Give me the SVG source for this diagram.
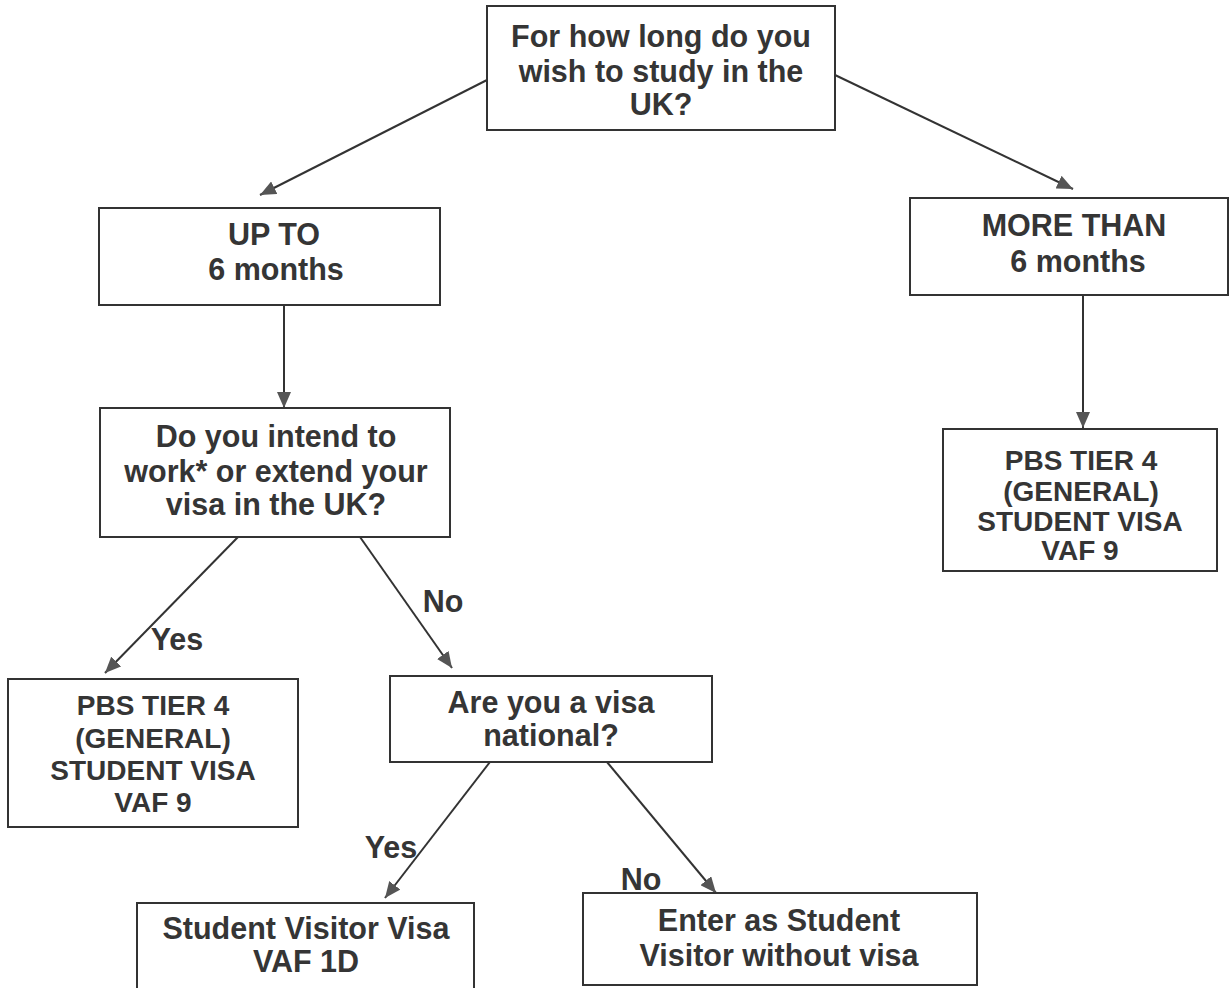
<svg xmlns="http://www.w3.org/2000/svg" width="1232" height="988" viewBox="0 0 1232 988">
<defs>
<marker id="ah" markerUnits="userSpaceOnUse" markerWidth="18" markerHeight="14" refX="16" refY="7" orient="auto">
<path d="M0,0 L16,7 L0,14 Z" fill="#555"/>
</marker>
<style>
.box{fill:#fff;stroke:#333;stroke-width:2}
.t{font-family:"Liberation Sans",Arial,sans-serif;font-weight:bold;font-size:30.5px;fill:#353535;text-anchor:middle}
.s{font-size:28px}
.c{stroke:#333;stroke-width:2;fill:none;marker-end:url(#ah)}
</style>
</defs>
<rect width="1232" height="988" fill="#fff"/>
<g id="connectors">
<line class="c" x1="487" y1="80" x2="260" y2="195"/>
<line class="c" x1="835" y1="75" x2="1073" y2="189"/>
<line class="c" x1="284" y1="305" x2="284" y2="408"/>
<line class="c" x1="1083" y1="295" x2="1083" y2="428"/>
<line class="c" x1="238" y1="537" x2="105" y2="673"/>
<line class="c" x1="360" y1="537" x2="452" y2="668"/>
<line class="c" x1="490" y1="762" x2="385" y2="898"/>
<line class="c" x1="607" y1="762" x2="716" y2="893"/>
<text class="t" x="177" y="650">Yes</text>
<text class="t" x="443" y="612">No</text>
<text class="t" x="391" y="858">Yes</text>
<text class="t" x="641" y="890">No</text>
</g>
<g id="q1">
<rect class="box" x="487" y="6" width="348" height="124"/>
<text class="t" x="661" y="47">For how long do you</text>
<text class="t" x="661" y="82">wish to study in the</text>
<text class="t" x="661" y="115">UK?</text>
</g>
<g id="upto">
<rect class="box" x="99" y="208" width="341" height="97"/>
<text class="t" x="274" y="245">UP TO</text>
<text class="t" x="276" y="280">6 months</text>
</g>
<g id="morethan">
<rect class="box" x="910" y="198" width="318" height="97"/>
<text class="t" x="1074" y="236">MORE THAN</text>
<text class="t" x="1078" y="272">6 months</text>
</g>
<g id="q2">
<rect class="box" x="100" y="408" width="350" height="129"/>
<text class="t" x="276" y="447">Do you intend to</text>
<text class="t" x="276" y="482">work* or extend your</text>
<text class="t" x="276" y="515">visa in the UK?</text>
</g>
<g id="pbs-right">
<rect class="box" x="943" y="429" width="274" height="142"/>
<text class="t s" x="1081" y="470">PBS TIER 4</text>
<text class="t s" x="1081" y="501">(GENERAL)</text>
<text class="t s" x="1080" y="531">STUDENT VISA</text>
<text class="t s" x="1080" y="560">VAF 9</text>
</g>
<g id="pbs-left">
<rect class="box" x="8" y="679" width="290" height="148"/>
<text class="t s" x="153" y="715">PBS TIER 4</text>
<text class="t s" x="153" y="748">(GENERAL)</text>
<text class="t s" x="153" y="780">STUDENT VISA</text>
<text class="t s" x="153" y="812">VAF 9</text>
</g>
<g id="q3">
<rect class="box" x="390" y="676" width="322" height="86"/>
<text class="t" x="551" y="713">Are you a visa</text>
<text class="t" x="551" y="746">national?</text>
</g>
<g id="svv">
<rect class="box" x="137" y="903" width="337" height="95"/>
<text class="t" x="306" y="939">Student Visitor Visa</text>
<text class="t" x="306" y="972">VAF 1D</text>
</g>
<g id="enter">
<rect class="box" x="583" y="893" width="394" height="92"/>
<text class="t" x="779" y="931">Enter as Student</text>
<text class="t" x="779" y="966">Visitor without visa</text>
</g>
</svg>
